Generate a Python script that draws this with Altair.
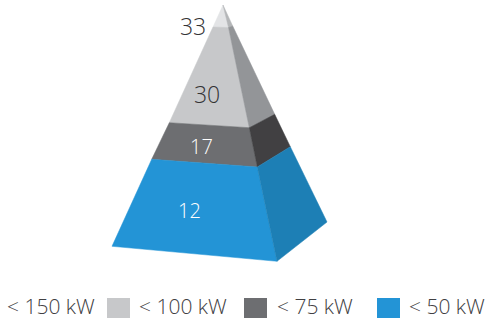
import altair as alt
import pandas as pd

W, H = 489, 320
FONT = "Open Sans"

# Pyramid faces: outline vertices in the drawing's coordinate space, back to front
face_names = ["cap_front", "cap_side", "t100_front", "t100_side", "t75_front", "t75_side", "t50_front", "t50_side"]
face_colors = ["#e3e4e6", "#b4b6b8", "#c7c8ca", "#939598", "#6d6e71", "#414042", "#2394d6", "#1d7fb5"]
face_x = [
    [223.0, 213.0, 228.5],
    [223.0, 228.5, 232.7],
    [213.0, 228.5, 249.3, 169.3],
    [228.5, 232.7, 274.7, 249.3],
    [169.3, 249.3, 257.3, 151.7],
    [249.3, 274.7, 290.3, 257.3],
    [151.7, 257.3, 277.0, 112.0],
    [257.3, 290.3, 327.0, 277.0],
]
face_y = [
    [5.0, 27.0, 27.5],
    [5.0, 27.5, 26.0],
    [27.0, 27.5, 127.7, 122.7],
    [27.5, 26.0, 114.3, 127.7],
    [122.7, 127.7, 167.0, 159.3],
    [127.7, 114.3, 146.7, 167.0],
    [159.3, 167.0, 261.3, 246.3],
    [167.0, 146.7, 222.0, 261.3],
]

# Values printed on the tiers
tier_values = ["33", "30", "17", "12"]
tier_x = [193, 207, 201.5, 189.5]
tier_y = [28, 96, 148, 212]
tier_colors = ["#333335", "#333335", "#ffffff", "#ffffff"]
tier_sizes = [23, 23, 20, 20]

# Legend row
legend_labels = ["< 150 kW", "< 100 kW", "< 75 kW", "< 50 kW"]
legend_text_x = [7, 139, 277, 409]
swatch_x = [107, 244, 377]
swatch_colors = ["#c7c8ca", "#6d6e71", "#2394d6"]

x_scale = alt.Scale(domain=[0, W], range=[0, W])
y_scale = alt.Scale(domain=[0, H], range=[0, H])
X = lambda f: alt.X(f, type="quantitative", scale=x_scale, axis=None)
Y = lambda f: alt.Y(f, type="quantitative", scale=y_scale, axis=None)

layers = []
for name, color, xs, ys in zip(face_names, face_colors, face_x, face_y):
    closed_x = xs + xs[:1]
    closed_y = ys + ys[:1]
    df = pd.DataFrame({"x": closed_x, "y": closed_y, "i": range(len(closed_x)), "face": name})
    layers.append(
        alt.Chart(df).mark_line(fill=color, stroke=color, strokeWidth=0.5, filled=False, interpolate="linear").encode(
            x=X("x"), y=Y("y"), order=alt.Order("i:Q")
        )
    )

tiers = pd.DataFrame({"v": tier_values, "x": tier_x, "y": tier_y, "c": tier_colors, "s": tier_sizes})
tier_text = alt.Chart(tiers).mark_text(font=FONT, fontWeight=300, align="center", baseline="middle").encode(
    x=X("x"), y=Y("y"), text="v:N",
    color=alt.Color("c:N", scale=None), size=alt.Size("s:Q", scale=None),
)

swatches = pd.DataFrame({"x": swatch_x, "x2": [v + 23 for v in swatch_x], "y": [298] * 3, "y2": [318] * 3, "c": swatch_colors})
swatch_marks = alt.Chart(swatches).mark_rect().encode(
    x=X("x"), x2="x2:Q", y=Y("y"), y2="y2:Q", color=alt.Color("c:N", scale=None)
)

legend_df = pd.DataFrame({"t": legend_labels, "x": legend_text_x, "y": [308] * 4})
legend_text = alt.Chart(legend_df).mark_text(
    font=FONT, fontWeight=300, fontSize=21, align="left", baseline="middle", color="#414042"
).encode(x=X("x"), y=Y("y"), text="t:N")

chart = alt.layer(*layers, tier_text, swatch_marks, legend_text).properties(
    width=W, height=H, padding=0, background="white", autosize=alt.AutoSizeParams(type="none")
).configure_view(stroke=None)

chart.save("out.html", embed_options={"renderer": "svg", "actions": False})
